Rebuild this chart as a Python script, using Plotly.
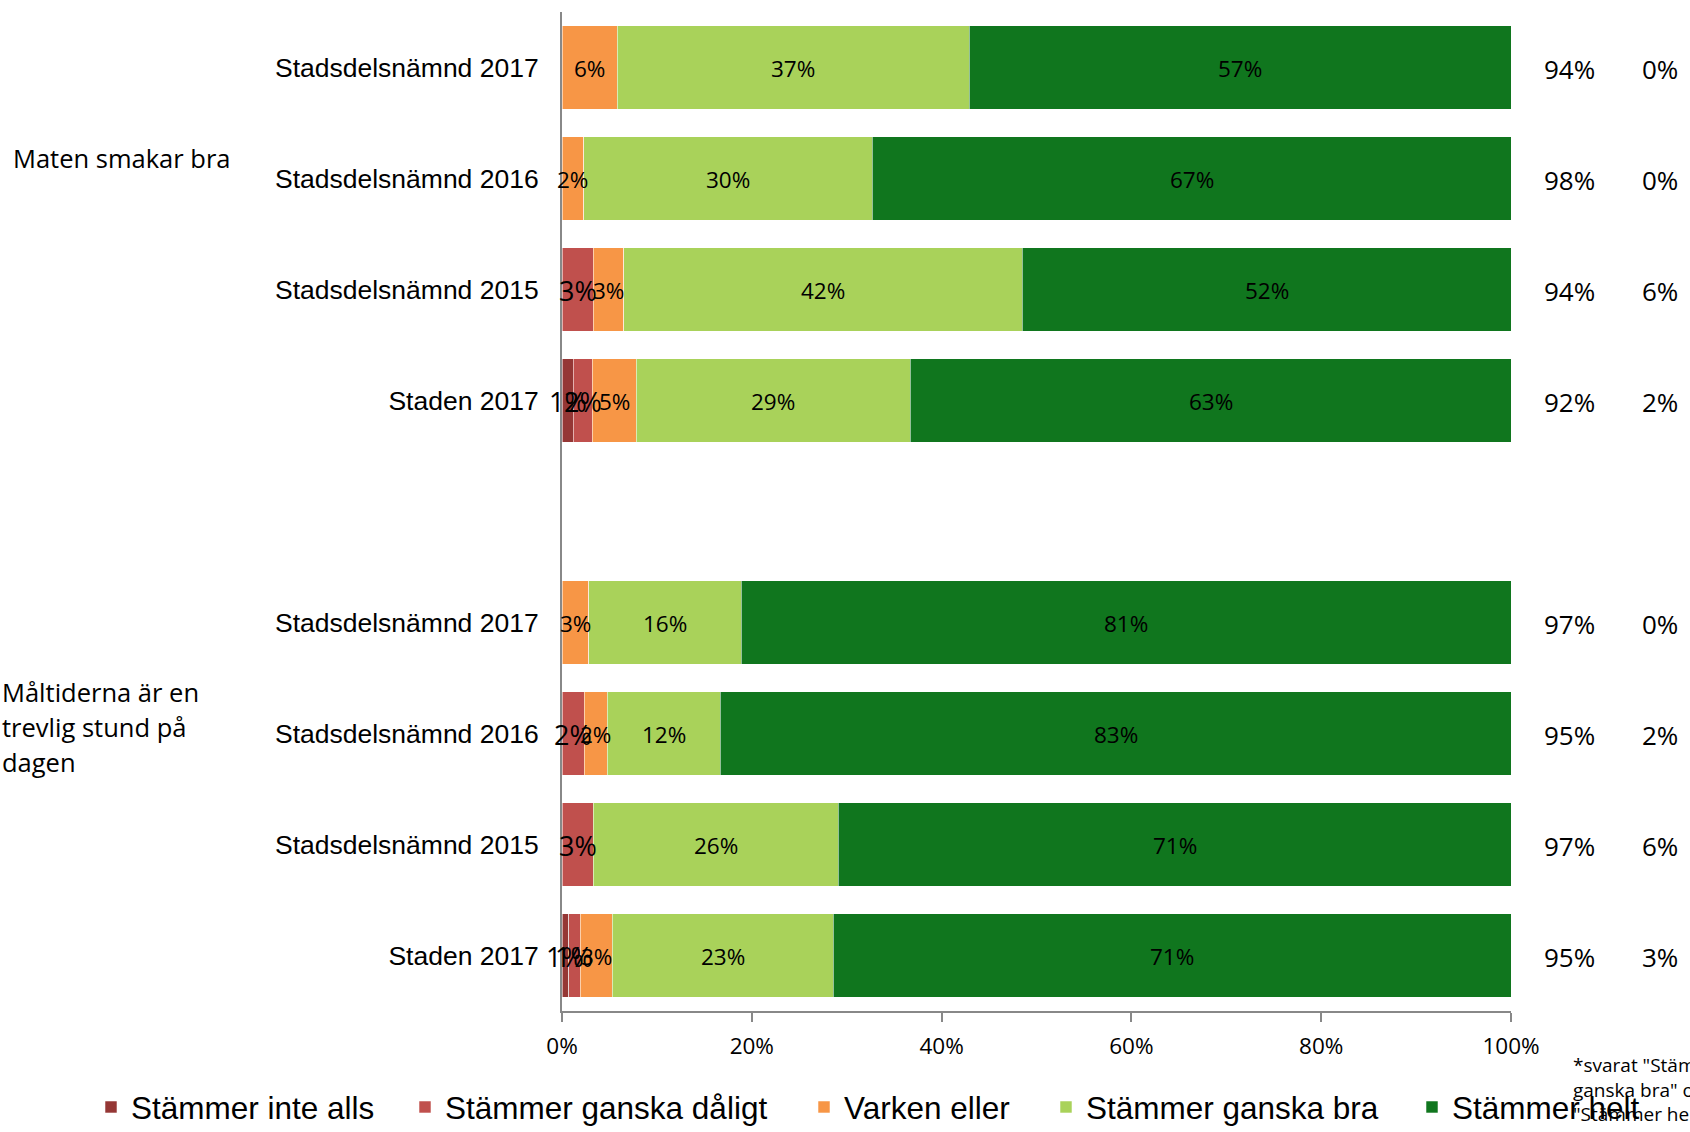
import plotly.graph_objects as go

# Row labels (top to bottom); the empty string is the spacer between the two questions
rader = [
    "Stadsdelsnämnd 2017", "Stadsdelsnämnd 2016", "Stadsdelsnämnd 2015", "Staden 2017",
    "",
    "Stadsdelsnämnd 2017", "Stadsdelsnämnd 2016", "Stadsdelsnämnd 2015", "Staden 2017",
]

# Answer shares in percent (None = no answers in that category)
stammer_inte_alls = [None, None, None, 1.2, None, None, None, None, 0.7]
stammer_ganska_daligt = [None, None, 3.3, 2.0, None, None, 2.35, 3.3, 1.2]
varken_eller = [5.8, 2.3, 3.2, 4.6, None, 2.8, 2.4, None, 3.4]
stammer_ganska_bra = [37.1, 30.4, 42.0, 28.9, None, 16.1, 11.9, 25.8, 23.3]
stammer_helt = [57.1, 67.3, 51.5, 63.3, None, 81.1, 83.35, 70.9, 71.4]

# Summary columns to the right of the bars
andel_nojda = [94, 98, 94, 92, None, 97, 95, 97, 95]
andel_andra = [0, 0, 6, 2, None, 0, 2, 6, 3]

# Question labels: text lines and the row each block is centred on
fraga_1 = ["Maten smakar bra"]
fraga_2 = ["Måltiderna är en", "trevlig stund på", "dagen"]
fraga_rad = [0.8, 6]

x_ticks = [0, 20, 40, 60, 80, 100]

serier = [
    ("Stämmer inte alls", stammer_inte_alls, "#953735", 27),
    ("Stämmer ganska dåligt", stammer_ganska_daligt, "#C0504D", 27),
    ("Varken eller", varken_eller, "#F79646", 22.5),
    ("Stämmer ganska bra", stammer_ganska_bra, "#A9D25A", 22.5),
    ("Stämmer helt", stammer_helt, "#10761E", 22.5),
]

# left edge (page pixels) of each legend entry
legend_left = [91, 405, 804, 1046, 1412]

W, H = 1690, 1132
ML, MR, MT, MB = 562, 179, 12, 121
PW = W - ML - MR
PH = H - MT - MB

def paper_x(px):
    return (px - ML) / PW

def paper_y(py):
    return (H - MB - py) / PH

y_pos = list(range(len(rader)))

fig = go.Figure()
legend_layouts = {}
for k, (namn, varden, farg, storlek) in enumerate(serier):
    lid = "legend" if k == 0 else f"legend{k + 1}"
    fig.add_trace(go.Bar(
        name=namn,
        legend=lid,
        y=y_pos,
        x=varden,
        orientation="h",
        marker=dict(color=farg, line=dict(color="rgba(255,255,255,0.55)", width=1)),
        hoverinfo="skip",
    ))
    legend_layouts[lid] = dict(
        orientation="h", xref="container", yref="container",
        x=legend_left[k] / W, y=1 - 1107 / H, xanchor="left", yanchor="middle",
        font=dict(family="Liberation Sans", size=31.5, color="black"),
        bgcolor="rgba(0,0,0,0)",
    )

annotations = []

# Value labels drawn above all bars, centred in each stacked segment
bas = [0.0] * len(rader)
for namn, varden, farg, storlek in serier:
    for i, v in enumerate(varden):
        if v is None:
            continue
        annotations.append(dict(x=bas[i] + v / 2, xref="x", y=i, yref="y", yshift=-1,
                                text=f"{v:.0f}%", showarrow=False,
                                xanchor="center", yanchor="middle",
                                font=dict(family="Open Sans", size=storlek, color="black")))
        bas[i] += v

txt_font = dict(family="Open Sans", size=26, color="black")
for i, (a, b) in enumerate(zip(andel_nojda, andel_andra)):
    if a is None:
        continue
    annotations.append(dict(x=paper_x(1569), xref="paper", y=i, yref="y", yshift=-1.5,
                            text=f"{a}%", showarrow=False, xanchor="center", font=txt_font))
    annotations.append(dict(x=paper_x(1660), xref="paper", y=i, yref="y", yshift=-1.5,
                            text=f"{b}%", showarrow=False, xanchor="center", font=txt_font))

for rad, rader_txt, left in ((fraga_rad[0], fraga_1, 11), (fraga_rad[1], fraga_2, 0)):
    n = len(rader_txt)
    for j, line in enumerate(rader_txt):
        annotations.append(dict(x=paper_x(left), xref="paper", y=rad, yref="y",
                                yshift=(n - 1) / 2 * 35 - j * 35 + (7 if n > 1 else -2),
                                text=line, showarrow=False, xanchor="left", align="left",
                                font=dict(family="Open Sans", size=25.5, color="black")))

annotations.append(dict(x=paper_x(1571), xref="paper", y=paper_y(1050), yref="paper",
                        yanchor="top", xanchor="left", align="left", showarrow=False,
                        text='*svarat "Stämmer<br>ganska bra" och<br>"Stämmer helt"',
                        font=dict(family="Open Sans", size=19, color="black")))

fig.update_layout(
    width=W, height=H,
    barmode="stack",
    bargap=0.25,
    plot_bgcolor="white",
    paper_bgcolor="white",
    margin=dict(l=ML, r=MR, t=MT, b=MB, pad=0, autoexpand=False),
    showlegend=True,
    annotations=annotations,
    xaxis=dict(range=[0, 100], tickvals=x_ticks, ticktext=[f"{v}%" for v in x_ticks],
               showgrid=False, zeroline=False, showline=True,
               linecolor="#888888", linewidth=2,
               ticks="outside", ticklen=9, tickwidth=2, tickcolor="#888888",
               tickfont=dict(family="Open Sans", size=22.5, color="black"),
               ticklabelstandoff=5, fixedrange=True),
    yaxis=dict(tickvals=y_pos, ticktext=rader, autorange="reversed",
               range=[len(rader) - 0.5, -0.5],
               showgrid=False, zeroline=False, showline=True,
               linecolor="#888888", linewidth=2, ticks="",
               tickfont=dict(family="Liberation Sans", size=26.5, color="black"),
               ticklabelstandoff=16, fixedrange=True),
    **legend_layouts,
)

fig.write_html("out.html")
